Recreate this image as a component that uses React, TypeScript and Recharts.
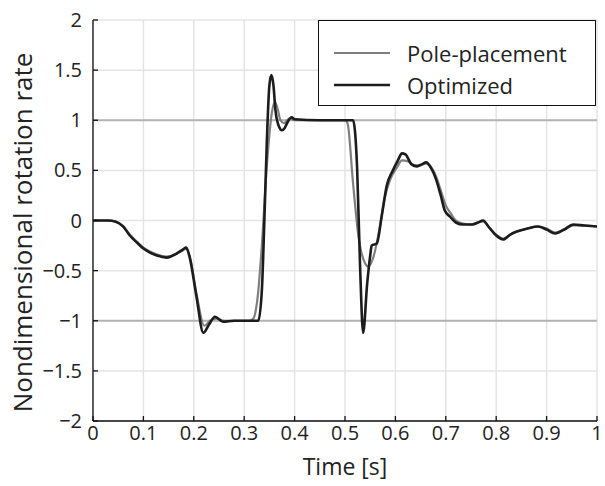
import React from 'react';
import { LineChart, Line, XAxis, YAxis, CartesianGrid, ReferenceLine, Label } from 'recharts';

const xTicks = [0, 0.1, 0.2, 0.3, 0.4, 0.5, 0.6, 0.7, 0.8, 0.9, 1];
const yTicks = [-2, -1.5, -1, -0.5, 0, 0.5, 1, 1.5, 2];

const optT = [0, 0.03, 0.044, 0.06, 0.073, 0.087, 0.1, 0.113, 0.127, 0.146, 0.166, 0.178, 0.185, 0.192, 0.205, 0.219, 0.23, 0.242, 0.258, 0.28, 0.31, 0.328, 0.335, 0.34, 0.345, 0.35, 0.354, 0.358, 0.362, 0.368, 0.375, 0.38, 0.386, 0.394, 0.4, 0.45, 0.5, 0.516, 0.524, 0.53, 0.536, 0.544, 0.55, 0.553, 0.563, 0.573, 0.583, 0.595, 0.605, 0.613, 0.62, 0.632, 0.643, 0.652, 0.661, 0.67, 0.68, 0.69, 0.698, 0.708, 0.72, 0.734, 0.752, 0.764, 0.774, 0.786, 0.8, 0.814, 0.828, 0.841, 0.862, 0.883, 0.9, 0.917, 0.935, 0.953, 0.975, 1.0];
const optV = [0, 0, -0.01, -0.06, -0.15, -0.22, -0.28, -0.32, -0.35, -0.37, -0.33, -0.29, -0.27, -0.37, -0.75, -1.12, -1.04, -0.96, -1.01, -1.0, -1.0, -1.0, -0.7, 0.0, 0.8, 1.35, 1.45, 1.35, 1.1, 0.95, 0.9, 0.92, 0.98, 1.03, 1.01, 1.0, 1.0, 1.0, 0.53, -0.47, -1.12, -0.63, -0.35, -0.25, -0.23, 0.05, 0.35, 0.5, 0.6, 0.67, 0.66, 0.56, 0.54, 0.56, 0.58, 0.53, 0.42, 0.25, 0.1, 0.04, -0.02, -0.04, -0.04, -0.02, 0.0, -0.07, -0.15, -0.19, -0.14, -0.11, -0.08, -0.06, -0.09, -0.13, -0.09, -0.04, -0.05, -0.06];

const poleT = [0, 0.03, 0.044, 0.06, 0.073, 0.087, 0.1, 0.113, 0.127, 0.146, 0.166, 0.178, 0.185, 0.192, 0.205, 0.221, 0.232, 0.245, 0.26, 0.28, 0.31, 0.318, 0.327, 0.335, 0.345, 0.355, 0.361, 0.366, 0.372, 0.379, 0.39, 0.4, 0.45, 0.5, 0.505, 0.516, 0.526, 0.54, 0.546, 0.556, 0.569, 0.579, 0.589, 0.603, 0.613, 0.625, 0.639, 0.65, 0.661, 0.67, 0.68, 0.69, 0.7, 0.71, 0.72, 0.734, 0.752, 0.764, 0.774, 0.786, 0.8, 0.814, 0.828, 0.841, 0.862, 0.883, 0.9, 0.917, 0.935, 0.953, 0.975, 1.0];
const poleV = [0, 0, -0.01, -0.06, -0.14, -0.21, -0.27, -0.31, -0.34, -0.36, -0.33, -0.3, -0.28, -0.36, -0.72, -1.05, -1.0, -0.98, -1.0, -1.0, -1.0, -0.98, -0.75, -0.25, 0.55, 1.08, 1.18, 1.12, 1.0, 0.97, 1.02, 1.0, 1.0, 1.0, 0.97, 0.37, -0.13, -0.43, -0.46, -0.37, -0.07, 0.23, 0.4, 0.53, 0.6, 0.59, 0.55, 0.55, 0.57, 0.54, 0.45, 0.3, 0.15, 0.07, 0.0, -0.03, -0.04, -0.02, -0.01, -0.07, -0.14, -0.18, -0.14, -0.11, -0.08, -0.06, -0.08, -0.12, -0.09, -0.05, -0.05, -0.06];

const optData = optT.map((t, i) => ({ t, v: optV[i] }));
const poleData = poleT.map((t, i) => ({ t, v: poleV[i] }));

const FONT = '"Open Sans", "Noto Sans", sans-serif';
const fmt = (v: number) => (v < 0 ? '\u2212' + String(Math.abs(v)) : String(v));

export default function App() {
  return (
    <div style={{ position: 'absolute', left: 0, top: 0, width: 605, height: 486, background: '#fff' }}>
      <LineChart width={605} height={486} margin={{ top: 20, right: 8, bottom: 0, left: 0 }} style={{ fontFamily: FONT }}>
        <CartesianGrid stroke="#e4e4e4" strokeWidth={1.5} />
        <XAxis dataKey="t" type="number" domain={[0, 1]} ticks={xTicks} allowDataOverflow
          height={65} tickSize={-5} tickMargin={10} stroke="#111" strokeWidth={1.3}
          tick={{ fill: '#222', fontSize: 20, fontFamily: FONT }} tickFormatter={fmt}>
          <Label value="Time [s]" position="center" dy={13} style={{ fill: '#222', fontSize: 23, fontFamily: FONT }} />
        </XAxis>
        <XAxis xAxisId="top" dataKey="t" type="number" domain={[0, 1]} ticks={xTicks} orientation="top"
          height={0} tickSize={-5} tick={false} stroke="#111" strokeWidth={1.3} />
        <YAxis type="number" domain={[-2, 2]} ticks={yTicks} width={93} tickSize={-5} tickMargin={16}
          stroke="#111" strokeWidth={1.3} tick={{ fill: '#222', fontSize: 20, fontFamily: FONT }} tickFormatter={fmt}>
          <Label value="Nondimensional rotation rate" angle={-90} position="center" dx={-23.5} dy={12}
            style={{ fill: '#222', fontSize: 26, fontFamily: FONT, textAnchor: 'middle' }} />
        </YAxis>
        <YAxis yAxisId="right" type="number" domain={[-2, 2]} ticks={yTicks} orientation="right"
          width={0} tickSize={-5} tick={false} stroke="#111" strokeWidth={1.3} />
        <ReferenceLine y={1} stroke="#b3b3b3" strokeWidth={2} />
        <ReferenceLine y={-1} stroke="#b3b3b3" strokeWidth={2} />
        <Line data={poleData} dataKey="v" type="monotone" stroke="#7f7f7f" strokeWidth={2.2} dot={false} isAnimationActive={false} />
        <Line data={optData} dataKey="v" type="monotone" stroke="#1c1c1c" strokeWidth={2.6} dot={false} isAnimationActive={false} />
      </LineChart>
      <div style={{ position: 'absolute', left: 318, top: 20, width: 278, height: 86, border: '1.3px solid #111', background: '#fff', boxSizing: 'border-box', fontFamily: FONT, fontSize: 22, color: '#222' }}>
        <svg width={80} height={86} style={{ position: 'absolute', left: 0, top: 0 }}>
          <line x1={15} x2={71} y1={32} y2={32} stroke="#7f7f7f" strokeWidth={2.2} />
          <line x1={15} x2={71} y1={64} y2={64} stroke="#1c1c1c" strokeWidth={2.6} />
        </svg>
        <div style={{ position: 'absolute', left: 88, top: 17, lineHeight: '30px' }}>Pole-placement</div>
        <div style={{ position: 'absolute', left: 88, top: 49, lineHeight: '30px' }}>Optimized</div>
      </div>
    </div>
  );
}
